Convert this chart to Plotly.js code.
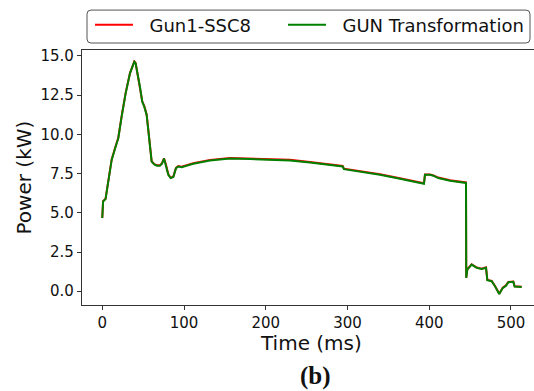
<!DOCTYPE html>
<html>
<head>
<meta charset="utf-8">
<script src="https://cdn.plot.ly/plotly-3.0.1.min.js"></script>
<style>
html,body{margin:0;padding:0;background:#fff;}
#chart{width:534px;height:391px;}
</style>
</head>
<body>
<div id="chart"></div>
<script>
// Time (ms) sample points
const timeMs = [0, 1, 4, 7, 11.5, 16.4, 19.6, 23.7, 28.6, 33.9, 36.7, 39.2, 40.8, 43.3, 46.1, 48.9, 51.4, 54.3, 56.3, 58.4,
  60.4, 63.6, 67, 70.5, 73, 75.5, 77.9, 80.8, 83.7, 86.9, 90.2, 93, 97.1, 111.3, 131.8, 156.2, 180.7, 229.6, 254.1,
  290.8, 294.1, 295.7, 323.5, 339.8, 364.2, 380.5, 393.6, 394.8, 400.9, 405, 411.1, 425.5, 437.7, 445, 445.3, 446.6,
  451.9, 458.1, 464.2, 469.5, 471.1, 476.4, 480.5, 485.7, 489.9, 493.9, 496.8, 502.9, 504.5, 513.1];

// Gun1-SSC8 power (kW)
const gun1Power = [4.67, 5.74, 5.89, 6.92, 8.4, 9.25, 9.78, 11.16, 12.64, 13.9, 14.32, 14.64, 14.54, 13.7, 13.06, 12.1, 11.79, 11.26, 10.3, 9.25,
  8.29, 8.1, 8.02, 8.02, 8.15, 8.47, 8.08, 7.45, 7.23, 7.3, 7.86, 7.98, 7.93, 8.16, 8.37, 8.49, 8.46, 8.37, 8.24,
  8.02, 7.98, 7.81, 7.6, 7.45, 7.2, 7.0, 6.88, 7.44, 7.44, 7.38, 7.24, 7.07, 6.96, 6.93, 0.87, 1.4,
  1.72, 1.51, 1.44, 1.52, 0.72, 0.66, 0.34, -0.16, 0.22, 0.37, 0.59, 0.62, 0.32, 0.29];

// GUN Transformation power (kW)
const gunTransPower = [4.67, 5.72, 5.87, 6.89, 8.37, 9.22, 9.75, 11.13, 12.61, 13.88, 14.3, 14.62, 14.52, 13.67, 13.03, 12.08, 11.76, 11.23, 10.28, 9.22,
  8.26, 8.08, 8.0, 8.0, 8.12, 8.45, 8.05, 7.42, 7.21, 7.28, 7.84, 7.95, 7.9, 8.12, 8.33, 8.45, 8.42, 8.33, 8.2,
  7.99, 7.95, 7.78, 7.57, 7.42, 7.17, 6.97, 6.85, 7.42, 7.42, 7.36, 7.21, 7.04, 6.93, 6.9, 0.85, 1.38,
  1.7, 1.49, 1.42, 1.5, 0.7, 0.64, 0.32, -0.18, 0.2, 0.35, 0.57, 0.6, 0.3, 0.27];

const seriesNames = ["Gun1-SSC8", "GUN Transformation"];
const yTicks = [0, 2.5, 5, 7.5, 10, 12.5, 15];
const xTicks = [0, 100, 200, 300, 400, 500];

const NB = '\u00a0\u00a0';
const traces = [
  {x: timeMs, y: gun1Power, name: NB + seriesNames[0], mode: 'lines', line: {color: '#ff0000', width: 2}, legend: 'legend'},
  {x: timeMs, y: gunTransPower, name: NB + seriesNames[1], mode: 'lines', line: {color: '#008000', width: 2}, legend: 'legend2'}
];

const font = 'DejaVu Sans, sans-serif';
// pixel -> paper helpers
const L = 82, W = 452, B = 305.5, H = 255.5;
const px = v => (v - L) / W;
const py = v => (B - v) / H;
const x0 = 87, x1 = 530, y0 = 10, y1 = 43, r = 4;
const boxPath = 'M' + px(x0 + r) + ',' + py(y0) +
  ' L' + px(x1 - r) + ',' + py(y0) + ' Q' + px(x1) + ',' + py(y0) + ' ' + px(x1) + ',' + py(y0 + r) +
  ' L' + px(x1) + ',' + py(y1 - r) + ' Q' + px(x1) + ',' + py(y1) + ' ' + px(x1 - r) + ',' + py(y1) +
  ' L' + px(x0 + r) + ',' + py(y1) + ' Q' + px(x0) + ',' + py(y1) + ' ' + px(x0) + ',' + py(y1 - r) +
  ' L' + px(x0) + ',' + py(y0 + r) + ' Q' + px(x0) + ',' + py(y0) + ' ' + px(x0 + r) + ',' + py(y0) + ' Z';

const legendBase = {
  orientation: 'h', y: py(6.5), xanchor: 'left', yanchor: 'top',
  borderwidth: 0, bgcolor: 'rgba(0,0,0,0)',
  font: {family: font, size: 18, color: '#111'},
  itemwidth: 38
};

const layout = {
  width: 534, height: 391,
  margin: {l: L, r: 0, t: 50, b: 85.5, pad: 0},
  paper_bgcolor: '#fff', plot_bgcolor: '#fff',
  showlegend: true,
  legend: Object.assign({}, legendBase, {x: px(90)}),
  legend2: Object.assign({}, legendBase, {x: px(283)}),
  shapes: [
    {type: 'path', xref: 'paper', yref: 'paper', path: boxPath, line: {color: '#555', width: 1}, fillcolor: 'rgba(0,0,0,0)', layer: 'above'}
  ],
  xaxis: {
    range: [-24.8, 528.2], tickvals: xTicks, ticktext: xTicks.map(String),
    showgrid: false, zeroline: false, showline: true, mirror: true,
    linecolor: '#333', linewidth: 1.2, ticks: 'outside', ticklen: 4, tickcolor: '#333',
    tickfont: {family: font, size: 15, color: '#111'}
  },
  yaxis: {
    range: [-0.877, 15.37], tickvals: yTicks, ticktext: yTicks.map(v => v.toFixed(1)),
    showgrid: false, zeroline: false, showline: true, mirror: false,
    linecolor: '#333', linewidth: 1.2, ticks: 'outside', ticklen: 4, tickcolor: '#333',
    tickfont: {family: font, size: 15, color: '#111'}
  },
  annotations: [
    {text: 'Time (ms)', xref: 'paper', yref: 'paper', x: px(311), y: py(344),
     xanchor: 'center', yanchor: 'middle', showarrow: false, font: {family: font, size: 20, color: '#111'}},
    {text: 'Power (kW)', xref: 'paper', yref: 'paper', x: px(23), y: 0.5, textangle: -90,
     xanchor: 'center', yanchor: 'middle', showarrow: false, font: {family: font, size: 20, color: '#111'}},
    {text: '<b>(b)</b>', xref: 'paper', yref: 'paper', x: px(315), y: py(377),
     xanchor: 'center', yanchor: 'middle', showarrow: false, font: {family: 'Liberation Serif, serif', size: 25, color: '#111'}}
  ]
};

Plotly.newPlot('chart', traces, layout, {staticPlot: true, displayModeBar: false});
</script>
</body>
</html>
